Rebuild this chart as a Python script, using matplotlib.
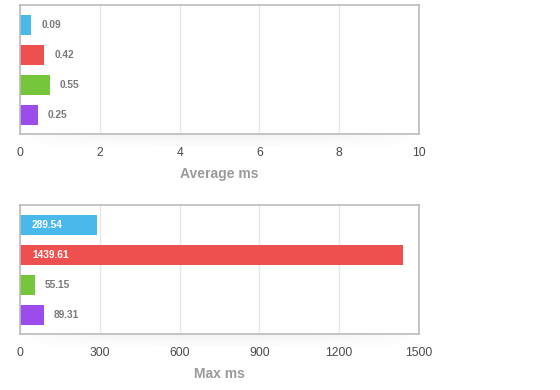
import matplotlib
matplotlib.use("Agg")
import matplotlib.pyplot as plt
import numpy as np

plt.rcParams['font.family'] = ['Liberation Sans', 'DejaVu Sans']

series = ['blue', 'red', 'green', 'purple']
colors = ['#4BB8EB', '#EE4F4F', '#75C63A', '#9B4DEB']

avg_values = [0.09, 0.42, 0.55, 0.25]
max_values = [289.54, 1439.61, 55.15, 89.31]

avg_ticks = [0, 2, 4, 6, 8, 10]
max_ticks = [0, 300, 600, 900, 1200, 1500]

# the average chart draws every bar a little longer than its value
avg_pad = 0.19

fig = plt.figure(figsize=(5.6, 3.9), dpi=100)
W, H = 560, 390


def panel(top_px, values, ticks, label, pad):
    ax = fig.add_axes([20 / W, 1 - (top_px + 129) / H, 399 / W, 129 / H])
    y = np.arange(len(values))
    lengths = [v + pad for v in values]
    ax.barh(y, lengths, height=0.667, color=colors, zorder=2)
    ax.set_ylim(3.633, -0.667)
    ax.set_xlim(ticks[0], ticks[-1])
    ax.set_xticks(ticks)
    ax.set_xticklabels([str(t) for t in ticks])
    ax.set_yticks([])
    ax.tick_params(axis='x', length=0, pad=9, labelsize=8.7, labelcolor='#4A4A4A')
    ax.grid(axis='x', color='#E8E8E8', lw=1, zorder=0)
    for s in ax.spines.values():
        s.set_color('#BBBBBB')
        s.set_linewidth(1.2)
    span = ticks[-1] - ticks[0]
    for yi, v, ln in zip(y, values, lengths):
        if ln > span * 0.15:
            ax.text(span * 0.03, yi, f'{v:.2f}', color='white', fontsize=7.3,
                    fontweight='bold', va='center', ha='left', zorder=3)
        else:
            ax.text(ln + span * 0.025, yi, f'{v:.2f}', color='#7A7A7A', fontsize=7.3,
                    fontweight='bold', va='center', ha='left', zorder=3)
    ax.set_xlabel(label, fontsize=10, fontweight='bold', color='#9A9A9A', labelpad=6)
    # soft shadow under the plot area
    vy = np.linspace(0.05, 0.0, 20).reshape(-1, 1)
    vx = np.sin(np.linspace(0, np.pi, 200)).reshape(1, -1) ** 0.5
    shade = vy * vx
    sx = fig.add_axes([20 / W, 1 - (top_px + 129 + 16) / H, 399 / W, 16 / H], zorder=-1)
    sx.imshow(np.dstack([np.zeros_like(shade)] * 3 + [shade]), aspect='auto',
              extent=[0, 1, 0, 1])
    sx.axis('off')
    return ax


panel(5, avg_values, avg_ticks, 'Average ms', avg_pad)
panel(205, max_values, max_ticks, 'Max ms', 0)

fig.savefig('out.png', dpi=100)
